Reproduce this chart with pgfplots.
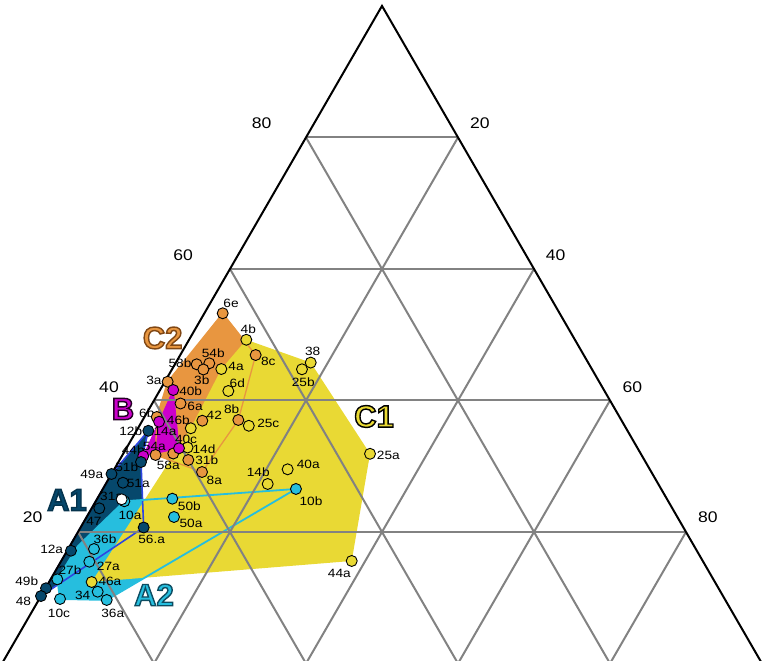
\documentclass[border=0pt]{standalone}
\usepackage{pgfplots}
\pgfplotsset{compat=1.18}
\usepackage{pgfplotstable}
\usepackage{fontspec}
\setmainfont{Liberation Sans}
\newfontfamily\labfont[FakeStretch=1.14]{Liberation Sans}

\definecolor{cyel}{RGB}{233,217,52}
\definecolor{corg}{RGB}{232,150,64}
\definecolor{cmag}{RGB}{204,0,204}
\definecolor{cnav}{RGB}{6,72,108}
\definecolor{ccya}{RGB}{38,190,222}
\definecolor{cblu}{RGB}{45,70,225}
\definecolor{cgry}{RGB}{130,130,130}

% filled text with a stroked outline: #1 fill colour, #2 stroke rgb (0-1), #3 text
\newcommand{\otext}[3]{\textcolor{#1}{\special{pdf:literal direct #2 RG 2 Tr 1.4 w}#3\special{pdf:literal direct 0 Tr}}}

\def\labfnt{\fontsize{12}{12}\labfont}
% label of a sample: #1 = T, #2 = R, #3/#4 = shift (pt), #5 = text
\newcommand{\lab}[5]{%
  \pgfmathsetmacro\labx{#2+0.5*#1}%
  \edef\labcmd{\noexpand\node[font=\noexpand\labfnt,
     inner sep=0pt, xshift=#3pt, yshift=#4pt] at (axis cs:\labx,#1) {#5};}%
  \labcmd}

\begin{document}

% ternary compositions: T = top component (%), R = right component (%)
\pgfplotstableread{
T R
49.23 7.53
44.78 6.47
41.44 9.06
35.77 6.95
32.85 7.99
36.15 14.40
45.76 17.74
44.74 17.10
31.89 32.48
29.53 22.82
27.30 21.31
15.59 38.22
12.39 5.60
}\yel

\pgfplotstableread{
T R
53.26 2.41
45.65 4.45
45.50 2.87
44.71 4.14
46.91 9.92
42.85 0.37
39.54 3.72
37.49 1.62
36.92 7.90
31.71 4.35
31.93 6.57
30.95 9.04
29.12 11.76
37.03 12.58
}\org

\pgfplotstableread{
T R
41.59 1.74
36.77 2.28
32.73 6.93
31.55 2.81
}\mag

\pgfplotstableread{
T R
35.39 1.56
30.64 2.97
28.82 0.00
27.49 2.17
23.60 1.00
20.68 8.30
17.15 0.50
11.44 0.07
10.26 0.00
}\nav

\pgfplotstableread{
T R
24.67 3.76
26.54 25.41
25.06 9.88
22.28 11.49
17.41 3.40
15.48 3.75
12.80 0.88
10.92 7.13
9.66 8.95
9.81 2.73
}\cya

\pgfplotstableread{
T R
24.97 3.26
}\wht

% group areas, first vertex repeated
\pgfplotstableread{
T R
53.26 2.41
46.91 9.92
37.03 12.58
29.12 11.76
31.71 4.35
37.49 1.62
42.85 0.37
53.26 2.41
}\polyCtwo

\pgfplotstableread{
T R
41.59 1.74
32.73 6.93
31.55 2.81
36.77 2.28
41.59 1.74
}\polyB

\pgfplotstableread{
T R
35.39 1.56
30.64 2.97
20.68 8.30
10.26 0.00
28.82 0.00
35.39 1.56
}\polyAone

\pgfplotstableread{
T R
12.80 0.88
17.87 1.07
24.67 3.76
26.54 25.41
9.66 8.95
9.81 2.73
12.80 0.88
}\polyAtwo

\pgfplotstableread{
T R
49.23 7.53
45.76 17.74
31.89 32.48
15.59 38.22
12.39 5.60
35.77 6.95
44.78 6.47
49.23 7.53
}\polyCone

\begin{tikzpicture}
\begin{axis}[
  width=764pt, height=661pt, scale only axis,
  xmin=-0.263, xmax=100.263, ymin=0.38, ymax=100.90,
  hide axis, clip=true,
  pts/.style={only marks, mark=*, mark size=5.5pt,
    mark options={draw=black, line width=0.9pt, fill=#1}},
]
% filled group areas
\addplot[fill=corg, draw=none] table[x expr=\thisrow{R}+0.5*\thisrow{T}, y=T] {\polyCtwo};
\addplot[fill=cmag, draw=none] table[x expr=\thisrow{R}+0.5*\thisrow{T}, y=T] {\polyB};
\addplot[fill=cnav, draw=none] table[x expr=\thisrow{R}+0.5*\thisrow{T}, y=T] {\polyAone};
\addplot[fill=ccya, draw=none] table[x expr=\thisrow{R}+0.5*\thisrow{T}, y=T] {\polyAtwo};
\addplot[fill=cyel, draw=none] table[x expr=\thisrow{R}+0.5*\thisrow{T}, y=T] {\polyCone};
% outlines
\addplot[corg, line width=1.3pt] table[x expr=\thisrow{R}+0.5*\thisrow{T}, y=T] {\polyCtwo};
\addplot[cmag, line width=1pt] table[x expr=\thisrow{R}+0.5*\thisrow{T}, y=T] {\polyB};
\addplot[cblu, line width=1.6pt] table[x expr=\thisrow{R}+0.5*\thisrow{T}, y=T] {\polyAone};
\addplot[ccya, line width=1.8pt] table[x expr=\thisrow{R}+0.5*\thisrow{T}, y=T] {\polyAtwo};

% grid (x = R + T/2, y = T)
\addplot[cgry, line width=2pt] coordinates {(10,20) (90,20)};
\addplot[cgry, line width=2pt] coordinates {(20,40) (80,40)};
\addplot[cgry, line width=2pt] coordinates {(30,60) (70,60)};
\addplot[cgry, line width=2pt] coordinates {(40,80) (60,80)};
\addplot[cgry, line width=2pt] coordinates {(20,0) (60,80)};
\addplot[cgry, line width=2pt] coordinates {(40,0) (70,60)};
\addplot[cgry, line width=2pt] coordinates {(60,0) (80,40)};
\addplot[cgry, line width=2pt] coordinates {(80,0) (90,20)};
\addplot[cgry, line width=2pt] coordinates {(80,0) (40,80)};
\addplot[cgry, line width=2pt] coordinates {(60,0) (30,60)};
\addplot[cgry, line width=2pt] coordinates {(40,0) (20,40)};
\addplot[cgry, line width=2pt] coordinates {(20,0) (10,20)};
% triangle
\addplot[black, line width=2pt] coordinates {(0,0) (50,100) (100,0) (0,0)};

% points
\addplot[pts=cyel] table[x expr=\thisrow{R}+0.5*\thisrow{T}, y=T] {\yel};
\addplot[pts=corg] table[x expr=\thisrow{R}+0.5*\thisrow{T}, y=T] {\org};
\addplot[pts=cmag] table[x expr=\thisrow{R}+0.5*\thisrow{T}, y=T] {\mag};
\addplot[pts=cnav] table[x expr=\thisrow{R}+0.5*\thisrow{T}, y=T] {\nav};
\addplot[pts=ccya] table[x expr=\thisrow{R}+0.5*\thisrow{T}, y=T] {\cya};
\addplot[pts=white] table[x expr=\thisrow{R}+0.5*\thisrow{T}, y=T] {\wht};

% sample labels
\lab{49.23}{7.53}{2}{11}{4b}
\lab{44.78}{6.47}{14.7}{2.3}{4a}
\lab{41.44}{9.06}{9}{7.7}{6d}
\lab{35.77}{6.95}{-12.4}{8.3}{46b}
\lab{32.85}{7.99}{16.5}{-1.5}{14d}
\lab{36.15}{14.40}{19.5}{2.5}{25c}
\lab{45.76}{17.74}{2}{10.9}{38}
\lab{44.74}{17.10}{1.3}{-13.4}{25b}
\lab{31.89}{32.48}{18.3}{-1.2}{25a}
\lab{29.53}{22.82}{20.6}{5}{40a}
\lab{27.30}{21.31}{-9.4}{11.3}{14b}
\lab{15.59}{38.22}{-12.4}{-12.3}{44a}
\lab{12.39}{5.60}{18.3}{1}{46a}
\lab{53.26}{2.41}{8.3}{9.8}{6e}
\lab{45.65}{4.45}{4}{10}{54b}
\lab{45.50}{2.87}{-16.7}{1}{58b}
\lab{44.71}{4.14}{-1.6}{-10.5}{3b}
\lab{46.91}{9.92}{12.6}{-6.7}{8c}
\lab{42.85}{0.37}{-13.7}{1.7}{3a}
\lab{39.54}{3.72}{14.5}{-3.2}{6a}
\lab{37.49}{1.62}{-10}{3.7}{6b}
\lab{36.92}{7.90}{12}{5.7}{42}
\lab{31.71}{4.35}{-1.2}{9}{54a}
\lab{31.93}{6.57}{-5}{-12.2}{58a}
\lab{30.95}{9.04}{18.4}{0}{31b}
\lab{29.12}{11.76}{12.3}{-8.7}{8a}
\lab{37.03}{12.58}{-6.6}{10.7}{8b}
\lab{41.59}{1.74}{17.4}{-1.7}{40b}
\lab{36.77}{2.28}{6}{-10}{14a}
\lab{32.73}{6.93}{7}{9}{40c}
\lab{31.55}{2.81}{-10}{6}{44b}
\lab{35.39}{1.56}{-17.6}{-0.9}{12b}
\lab{30.64}{2.97}{-14.3}{-4.7}{51b}
\lab{28.82}{0.00}{-19.8}{-0.3}{49a}
\lab{27.49}{2.17}{15.3}{-0.6}{51a}
\lab{23.60}{1.00}{-5.3}{-13.4}{47}
\lab{20.68}{8.30}{8}{-11.8}{56.a}
\lab{17.15}{0.50}{-19.3}{1.4}{12a}
\lab{11.44}{0.07}{-19.3}{6.6}{49b}
\lab{10.26}{0.00}{-17.5}{-5.7}{48}
\lab{24.67}{3.76}{5.7}{-13.7}{10a}
\lab{26.54}{25.41}{15}{-12.7}{10b}
\lab{25.06}{9.88}{17}{-7.3}{50b}
\lab{22.28}{11.49}{17}{-6.3}{50a}
\lab{17.41}{3.40}{11}{9.7}{36b}
\lab{15.48}{3.75}{19}{-5}{27a}
\lab{12.80}{0.88}{12.7}{9.3}{27b}
\lab{10.92}{7.13}{-15}{-3.3}{34}
\lab{9.66}{8.95}{6}{-13.3}{36a}
\lab{9.81}{2.73}{-1}{-14.3}{10c}
\lab{24.97}{3.26}{-10}{2.6}{31a}

% axis tick labels
\begin{scope}[every node/.style={font=\fontsize{15.4}{15.4}\labfont, inner sep=0pt}]
\node at (axis cs:34.17,82.12) {80};
\node at (axis cs:23.84,62.03) {60};
\node at (axis cs:14.08,42.05) {40};
\node at (axis cs:4.04,22.19) {20};
\node at (axis cs:62.87,82.12) {20};
\node at (axis cs:72.84,62.03) {40};
\node at (axis cs:82.96,42.05) {60};
\node at (axis cs:92.89,22.19) {80};
\end{scope}

% group names
\begin{scope}[every node/.style={font=\fontsize{31}{31}\selectfont\bfseries, inner sep=0pt}]
\node at (axis cs:21.14,49.50) {\otext{corg}{0.5 0.28 0.08}{C2}};
\node at (axis cs:48.95,37.56) {\otext{cyel}{0 0 0}{C1}};
\node at (axis cs:15.92,38.70) {\otext{cmag}{0.15 0 0.15}{B}};
\node at (axis cs:8.55,24.86) {\otext{cnav}{0.02 0.2 0.3}{A1}};
\node at (axis cs:20.00,10.42) {\otext{ccya}{0.05 0.3 0.38}{A2}};
\end{scope}
\end{axis}
\pgfresetboundingbox
\path (current axis.south west) rectangle (current axis.north east);
\end{tikzpicture}
\end{document}
